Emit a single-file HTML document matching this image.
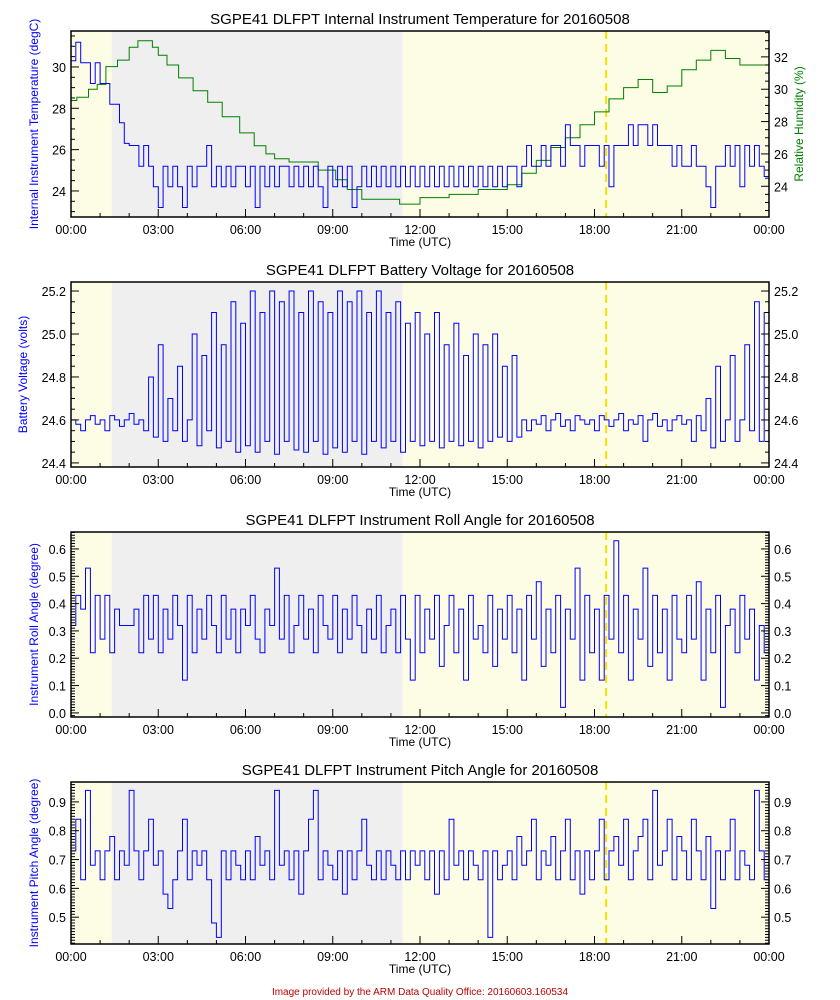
<!DOCTYPE html>
<html><head><meta charset="utf-8"><style>
body{margin:0;background:#fff}
svg{display:block;font-family:"Liberation Sans","DejaVu Sans",sans-serif}
</style></head><body>
<svg id="c" width="840" height="1000" viewBox="0 0 840 1000"></svg>
<script>
const xTickLabels=["00:00","03:00","06:00","09:00","12:00","15:00","18:00","21:00","00:00"];
const grayStart=1.4, grayEnd=11.4, dashHour=18.4;
const tempVals=[30.3,31.2,30.2,30.2,29.2,30.2,29.2,29.2,28.2,28.2,27.3,26.3,26.2,26.2,25.2,26.2,25.2,24.2,
23.2,25.2,24.2,25.2,24.2,23.2,25.2,24.2,25.2,25.2,26.2,24.2,25.2,24.2,25.2,24.2,25.2,25.2,
24.2,25.2,23.2,25.2,24.2,25.2,24.2,25.2,25.2,24.2,25.2,24.2,25.2,24.2,25.2,24.2,23.2,25.2,
24.2,25.2,24.2,25.2,23.2,24.2,25.2,24.2,25.2,24.2,25.2,24.2,25.2,24.2,25.2,24.2,25.2,24.2,
25.2,24.2,25.2,24.2,25.2,24.2,25.2,24.2,25.2,24.2,25.2,24.2,25.2,24.2,25.2,24.2,25.2,24.2,
25.2,25.2,24.2,25.2,26.2,25.2,25.2,26.2,25.2,26.2,26.2,25.2,27.2,26.2,26.2,25.2,26.2,26.2,
26.2,25.2,26.2,24.2,26.2,26.2,26.2,27.2,26.2,27.2,27.2,26.2,27.2,26.2,26.2,26.2,25.2,26.2,
25.2,25.2,26.2,25.2,25.2,24.2,23.2,25.2,25.2,26.2,25.2,26.2,24.2,26.2,25.2,26.2,25.2,24.7];
const rhHours=[0,0.2,0.6,0.9,1.2,1.6,2.0,2.3,2.8,3.0,3.3,3.7,4.2,4.7,5.2,5.8,6.3,6.7,7.0,7.5,8.5,9.1,9.5,10.0,11.3,12,13,14,15,15.5,16,16.5,17,17.5,18,18.5,19,19.5,20,20.5,21,21.5,22,22.5,23,24];
const rhVals=[29.3,29.5,30.0,30.3,31.4,31.8,32.6,33.0,32.6,32.1,31.5,30.7,29.9,29.2,28.3,27.3,26.5,26.0,25.7,25.5,25.0,24.4,23.8,23.2,22.9,23.3,23.5,23.8,24.1,24.8,25.6,26.4,27.0,27.8,28.6,29.4,30.1,30.6,29.8,30.2,31.2,31.8,32.4,31.9,31.5,31.5];
const battVals=[24.6,24.58,24.55,24.6,24.62,24.58,24.6,24.55,24.62,24.6,24.57,24.6,24.63,24.58,24.6,24.55,24.8,24.52,
24.95,24.5,24.7,24.55,24.85,24.5,24.6,25.0,24.48,24.9,24.55,25.1,24.47,24.95,24.5,25.15,24.45,25.05,
24.48,25.2,24.45,25.1,24.5,25.2,24.44,25.15,24.5,25.2,24.46,25.1,24.45,25.2,24.5,25.15,24.44,25.1,
24.47,25.2,24.45,25.15,24.5,25.2,24.44,25.1,24.5,25.2,24.47,25.1,24.5,25.15,24.45,25.05,24.5,25.1,
24.48,25.0,24.5,25.1,24.47,24.95,24.5,25.05,24.48,24.9,24.5,25.0,24.47,24.95,24.5,25.0,24.52,24.85,
24.5,24.9,24.52,24.6,24.55,24.6,24.58,24.62,24.55,24.6,24.63,24.57,24.6,24.55,24.62,24.6,24.58,24.6,
24.55,24.62,24.6,24.57,24.6,24.63,24.55,24.6,24.58,24.62,24.5,24.6,24.63,24.57,24.6,24.55,24.6,24.62,
24.58,24.6,24.5,24.62,24.55,24.7,24.47,24.85,24.5,24.6,24.9,24.5,24.6,24.95,24.55,25.15,24.5,25.1];
const rollVals=[0.32,0.43,0.38,0.53,0.22,0.43,0.27,0.43,0.22,0.38,0.32,0.32,0.32,0.38,0.22,0.43,0.27,0.43,
0.22,0.38,0.27,0.43,0.32,0.12,0.43,0.22,0.38,0.27,0.43,0.32,0.22,0.43,0.27,0.38,0.22,0.38,
0.32,0.43,0.27,0.22,0.38,0.32,0.53,0.27,0.43,0.22,0.32,0.43,0.27,0.38,0.22,0.43,0.32,0.27,
0.43,0.22,0.38,0.27,0.43,0.32,0.22,0.38,0.27,0.43,0.22,0.32,0.38,0.22,0.43,0.27,0.12,0.43,
0.22,0.38,0.27,0.43,0.17,0.32,0.43,0.22,0.38,0.12,0.43,0.27,0.32,0.22,0.43,0.17,0.38,0.27,
0.43,0.22,0.38,0.12,0.43,0.27,0.48,0.17,0.38,0.22,0.43,0.02,0.38,0.27,0.53,0.12,0.43,0.22,
0.38,0.12,0.43,0.27,0.63,0.22,0.43,0.12,0.38,0.27,0.53,0.17,0.43,0.22,0.38,0.12,0.43,0.27,
0.22,0.43,0.27,0.48,0.12,0.38,0.22,0.43,0.02,0.32,0.38,0.22,0.43,0.27,0.38,0.12,0.32,0.22];
const pitchVals=[0.73,0.84,0.63,0.94,0.68,0.73,0.63,0.73,0.78,0.63,0.73,0.68,0.94,0.73,0.63,0.73,0.84,0.68,
0.73,0.58,0.53,0.63,0.73,0.84,0.63,0.73,0.68,0.73,0.63,0.48,0.43,0.73,0.63,0.73,0.68,0.63,
0.73,0.63,0.78,0.68,0.73,0.63,0.94,0.68,0.73,0.63,0.73,0.58,0.73,0.84,0.94,0.63,0.73,0.68,
0.63,0.73,0.58,0.73,0.63,0.73,0.84,0.68,0.63,0.73,0.63,0.73,0.68,0.63,0.73,0.63,0.73,0.68,
0.73,0.63,0.73,0.58,0.73,0.63,0.84,0.68,0.73,0.63,0.73,0.68,0.63,0.73,0.43,0.73,0.63,0.68,
0.73,0.63,0.78,0.68,0.73,0.84,0.63,0.73,0.68,0.78,0.63,0.73,0.84,0.63,0.73,0.58,0.73,0.63,
0.73,0.84,0.63,0.73,0.78,0.68,0.84,0.63,0.73,0.78,0.84,0.63,0.94,0.68,0.73,0.84,0.63,0.78,
0.73,0.63,0.84,0.73,0.63,0.78,0.53,0.73,0.63,0.73,0.84,0.63,0.73,0.68,0.63,0.94,0.73,0.63];

const NS="http://www.w3.org/2000/svg";
const svg=document.getElementById('c');
const X0=71,X1=769;
function xs(h){return X0+(X1-X0)*h/24;}
function mk(tag,attrs,parent){const e=document.createElementNS(NS,tag);for(const k in attrs)e.setAttribute(k,attrs[k]);(parent||svg).appendChild(e);return e;}
function txt(s,attrs,parent){const e=mk('text',attrs,parent);e.textContent=s;return e;}

function yticks(g,ys,vmin,vmax,step,minor,dec,side,showLabels,color){
  const n=Math.round((vmax-vmin)/minor);
  for(let k=0;k<=n+200;k++){
    const v=Math.ceil(vmin/minor-1e-6)*minor+k*minor; if(v>vmax+1e-9)break;
    const isMaj=Math.abs(v/step-Math.round(v/step))<1e-6;
    const y=ys(v),len=isMaj?8:4;
    const x=side==='l'?X0:X1;
    const t=mk('line',{x1:x,x2:side==='l'?x+len:x-len,y1:y,y2:y,stroke:'#000','stroke-width':1},g);
    
    
    if(isMaj&&showLabels){
      const l=txt(v.toFixed(dec),{x:side==='l'?X0-5:X1+5,y:y+5,'font-size':12.5,'text-anchor':side==='l'?'end':'start',fill:color||'#000'},g);
      
      
    }
  }
}

function stepPath(vals,ys){
  let d='';const n=vals.length;
  for(let i=0;i<n;i++){const xa=xs(i*24/n),xb=xs((i+1)*24/n),y=ys(vals[i]);d+=(i?'L':'M')+xa.toFixed(1)+' '+y.toFixed(1)+'L'+xb.toFixed(1)+' '+y.toFixed(1);}
  return d;
}
function stepPathT(hours,vals,ys){
  let d='';
  for(let i=0;i<hours.length;i++){const xa=xs(hours[i]),xb=xs(i+1<hours.length?hours[i+1]:24),y=ys(vals[i]);d+=(i?'L':'M')+xa.toFixed(1)+' '+y.toFixed(1)+'L'+xb.toFixed(1)+' '+y.toFixed(1);}
  return d;
}

function panel(p){
  const g=mk('g',{});
  
  
  const ys=v=>p.bot-(v-p.min)/(p.max-p.min)*(p.bot-p.top);
  const y1=mk('rect',{x:X0,y:p.top,width:xs(grayStart)-X0,height:p.bot-p.top,fill:'#fdfde6'},g);
  
  const gr=mk('rect',{x:xs(grayStart),y:p.top,width:xs(grayEnd)-xs(grayStart),height:p.bot-p.top,fill:'#efefef'},g);
  
  const y2=mk('rect',{x:xs(grayEnd),y:p.top,width:X1-xs(grayEnd),height:p.bot-p.top,fill:'#fdfde6'},g);
  
  const dl=mk('line',{x1:xs(dashHour),x2:xs(dashHour),y1:p.top,y2:p.bot,stroke:'#f5e000','stroke-width':2,'stroke-dasharray':'8,5'},g);
  
  if(p.rh){
    const ys2=v=>p.bot-(v-p.rh.min)/(p.rh.max-p.rh.min)*(p.bot-p.top);
    const gp=mk('path',{d:stepPathT(rhHours,rhVals,ys2),fill:'none',stroke:'#008000','stroke-width':1},g);
    
    yticks(g,ys2,p.rh.min,p.rh.max,2,0.5,0,'r',true);
  }
  const bp=mk('path',{d:stepPath(p.vals,ys),fill:'none',stroke:'#0000ff','stroke-width':1},g);
  
  const fr=mk('rect',{x:X0,y:p.top,width:X1-X0,height:p.bot-p.top,fill:'none',stroke:'#000','stroke-width':1.5},g);
  
  yticks(g,ys,p.min,p.max,p.step,p.minor,p.dec,'l',true,'#000');
  if(!p.rh) yticks(g,ys,p.min,p.max,p.step,p.minor,p.dec,'r',true,'#000');
  for(let h=0;h<=24;h++){
    const maj=h%3===0;
    const t=mk('line',{x1:xs(h),x2:xs(h),y1:p.bot,y2:p.bot-(maj?8:4),stroke:'#000'},g);
    
    if(maj){const l=txt(xTickLabels[h/3],{x:xs(h),y:p.bot+17,'font-size':12.5,'text-anchor':'middle'},g);
      }
  }
  const xt=txt('Time (UTC)',{x:420,y:p.bot+29,'font-size':12,'text-anchor':'middle'},g);
  
  const ti=txt(p.title,{x:420,y:p.top-7,'font-size':15,'text-anchor':'middle'},g);
  
  const cy=(p.top+p.bot)/2;
  const yl=txt(p.ylabel,{x:0,y:0,'font-size':12,'text-anchor':'middle',fill:'#0000ff',transform:`translate(${p.ylx},${cy}) rotate(-90)`},g);
  
  if(p.rh){const rl=txt('Relative Humidity (%)',{x:0,y:0,'font-size':12,'text-anchor':'middle',fill:'#008000',transform:`translate(803,${cy}) rotate(-90)`},g);
    }
}

panel({name:'temperature-panel',series:'temperature-line',top:31,bot:217,min:22.74,max:31.74,step:2,minor:0.5,dec:0,vals:tempVals,
  title:'SGPE41 DLFPT Internal Instrument Temperature for 20160508',ylabel:'Internal Instrument Temperature (degC)',ylx:38,rh:{min:22.1,max:33.6}});
panel({name:'battery-panel',series:'battery-line',top:282,bot:467,min:24.381,max:25.242,step:0.2,minor:0.05,dec:1,vals:battVals,
  title:'SGPE41 DLFPT Battery Voltage for 20160508',ylabel:'Battery Voltage (volts)',ylx:27});
panel({name:'roll-panel',series:'roll-line',top:532,bot:717,min:-0.015,max:0.662,step:0.1,minor:0.01,dec:1,vals:rollVals,
  title:'SGPE41 DLFPT Instrument Roll Angle for 20160508',ylabel:'Instrument Roll Angle (degree)',ylx:38});
panel({name:'pitch-panel',series:'pitch-line',top:782,bot:944,min:0.407,max:0.969,step:0.1,minor:0.01,dec:1,vals:pitchVals,
  title:'SGPE41 DLFPT Instrument Pitch Angle for 20160508',ylabel:'Instrument Pitch Angle (degree)',ylx:38});

const ft=txt('Image provided by the ARM Data Quality Office: 20160603.160534',{x:420,y:995,'font-size':10,'text-anchor':'middle',fill:'#c00000'});

</script>
</body></html>
